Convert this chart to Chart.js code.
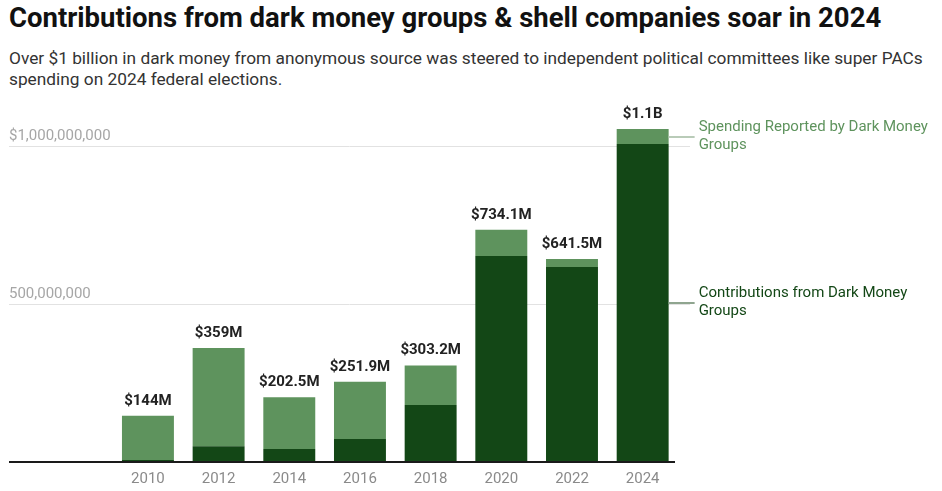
<!DOCTYPE html>
<html>
<head>
<meta charset="utf-8">
<script src="https://cdn.jsdelivr.net/npm/chart.js@4.4.1/dist/chart.umd.min.js"></script>
<style>
  html, body { margin: 0; padding: 0; background: #fff; }
  body { width: 942px; height: 491px; position: relative; overflow: hidden; font-family: Roboto, "Noto Sans", sans-serif; }
  #title { position: absolute; left: 9px; top: 1px; font-size: 27.5px; font-weight: 700; color: #111; white-space: nowrap; }
  #subtitle { position: absolute; left: 9px; top: 48px; font-size: 17.3px; line-height: 21px; color: #333; width: 935px; white-space: nowrap; }
  #wrap { position: absolute; left: 0; top: 0; width: 942px; height: 491px; }
</style>
</head>
<body>
<div id="title">Contributions from dark money groups &amp; shell companies soar in 2024</div>
<div id="subtitle">Over $1 billion in dark money from anonymous source was steered to independent political committees like super PACs<br>spending on 2024 federal elections.</div>
<div id="wrap"><canvas id="c" width="942" height="491"></canvas></div>
<script>
const years = ['2010', '2012', '2014', '2016', '2018', '2020', '2022', '2024'];
// values in millions of dollars
const contributions = [3, 47, 38, 70, 178, 651, 616, 1006];
const spending = [141, 312, 164.5, 181.9, 125.2, 83.1, 25.5, 48];
const totalLabels = ['$144M', '$359M', '$202.5M', '$251.9M', '$303.2M', '$734.1M', '$641.5M', '$1.1B'];
const yTicks = [500, 1000];
const yTickLabels = ['500,000,000', '$1,000,000,000'];
const seriesNames = [['Contributions from Dark Money', 'Groups'], ['Spending Reported by Dark Money', 'Groups']];

const DARK = '#134716';
const LIGHT = '#5e935d';

const decor = {
  id: 'decor',
  beforeDatasetsDraw(chart) {
    const ctx = chart.ctx;
    const y = chart.scales.y;
    const area = chart.chartArea;
    ctx.save();
    ctx.strokeStyle = '#e2e2e2';
    ctx.lineWidth = 1;
    ctx.font = '15px Roboto';
    ctx.fillStyle = '#a6a6a6';
    ctx.textAlign = 'left';
    ctx.textBaseline = 'alphabetic';
    yTicks.forEach((v, i) => {
      const py = Math.round(y.getPixelForValue(v)) + 0.5;
      ctx.beginPath();
      ctx.moveTo(9, py);
      ctx.lineTo(area.right + 12, py);
      ctx.stroke();
      ctx.fillText(yTickLabels[i], 9, py - 7);
    });
    ctx.restore();
  },
  afterDatasetsDraw(chart) {
    const ctx = chart.ctx;
    const area = chart.chartArea;
    const y = chart.scales.y;
    ctx.save();
    // baseline
    ctx.strokeStyle = '#1a1a1a';
    ctx.lineWidth = 2;
    ctx.beginPath();
    const by = y.getPixelForValue(0) + 1;
    ctx.moveTo(9, by);
    ctx.lineTo(area.right - 3, by);
    ctx.stroke();
    // totals
    const top = chart.getDatasetMeta(1);
    ctx.font = 'bold 15px Roboto';
    ctx.fillStyle = '#222';
    ctx.textAlign = 'center';
    ctx.textBaseline = 'alphabetic';
    top.data.forEach((bar, i) => {
      ctx.fillText(totalLabels[i], bar.x, bar.y - 11);
    });
    // direct labels at last bar
    const last = years.length - 1;
    const b0 = chart.getDatasetMeta(0).data[last];
    const b1 = top.data[last];
    const segs = [
      { yc: (b0.y + b0.base) / 2, color: DARK, line: '#8fa58f', names: seriesNames[0] },
      { yc: (b1.y + b1.base) / 2, color: LIGHT, line: '#b9cbb8', names: seriesNames[1] }
    ];
    const xr = b0.x + b0.width / 2;
    ctx.font = '15px Roboto';
    ctx.textAlign = 'left';
    ctx.textBaseline = 'middle';
    segs.forEach(s => {
      ctx.strokeStyle = s.line;
      ctx.lineWidth = 2;
      ctx.beginPath();
      ctx.moveTo(xr, Math.round(s.yc));
      ctx.lineTo(xr + 26, Math.round(s.yc));
      ctx.stroke();
      ctx.fillStyle = s.color;
      ctx.fillText(s.names[0], xr + 30, s.yc - 9);
      ctx.fillText(s.names[1], xr + 30, s.yc + 9);
    });
    ctx.restore();
  }
};

new Chart(document.getElementById('c'), {
  type: 'bar',
  data: {
    labels: years,
    datasets: [
      { label: 'Contributions from Dark Money Groups', data: contributions, backgroundColor: DARK },
      { label: 'Spending Reported by Dark Money Groups', data: spending, backgroundColor: LIGHT }
    ]
  },
  options: {
    responsive: false,
    animation: false,
    devicePixelRatio: 1,
    layout: { padding: { left: 112.6, right: 264, top: 114.5, bottom: 0 } },
    datasets: { bar: { categoryPercentage: 1, barPercentage: 0.735 } },
    plugins: { legend: { display: false }, tooltip: { enabled: false }, title: { display: false } },
    scales: {
      x: {
        stacked: true,
        grid: { display: false, drawTicks: false },
        border: { display: false },
        ticks: { color: '#8a8a8a', font: { family: 'Roboto', size: 15 }, padding: 9 },
        afterFit(scale) { scale.height = 30; }
      },
      y: {
        stacked: true,
        display: false,
        min: 0,
        max: 1100
      }
    }
  },
  plugins: [decor]
});
</script>
</body>
</html>
